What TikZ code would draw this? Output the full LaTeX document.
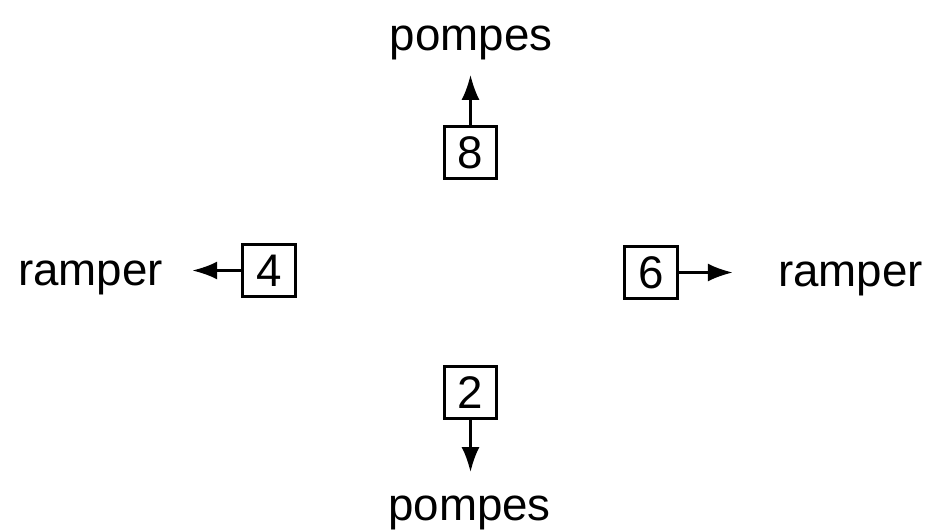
\documentclass[tikz,border=0pt]{standalone}
\usepackage{fontspec}
\setmainfont{Liberation Sans}
\usetikzlibrary{arrows.meta}
\tikzstyle{key} = [rectangle, draw=black, line width=1.5pt, minimum size=1.05cm, inner sep=0pt]
\tikzstyle{move} = [inner sep=0pt, anchor=base]
\tikzstyle{arrow} = [line width=1.5pt,-{Latex[length=0.5cm,width=0.36cm]}]
\tikzstyle{every node}=[font=\fontsize{26}{30}\selectfont]
\begin{document}
\begin{tikzpicture}
		\useasboundingbox (0,0) rectangle (18.6,10.58);
		%touches du pave
		\node (b8) [key] at (9.41,7.53) {8};
		\node (b2) [key] at (9.41,2.73) {2};
		\node (b4) [key] at (5.38,5.17) {4};
		\node (b6) [key] at (13.02,5.13) {6};
		
		%mouvements
		\node (t8) [move] at (9.42,9.58) {pompes};
		\node (t2) [move] at (9.39,0.18) {pompes};
		\node (t4) [move] at (1.81,4.88) {ramper};
		\node (t6) [move] at (17.01,4.86) {ramper};
		
		%fleches
		\draw [arrow, shorten >=0.3cm] (b8) -- (b8 |- t8.south);
		\draw [arrow, shorten >=0.46cm] (b2) -- (b2 |- t2.north);
		\draw [arrow, shorten >=0.58cm] (b4) -- (b4 -| t4.east);
		\draw [arrow, shorten >=0.9cm] (b6) -- (b6 -| t6.west);
		
	\end{tikzpicture}
\end{document}
